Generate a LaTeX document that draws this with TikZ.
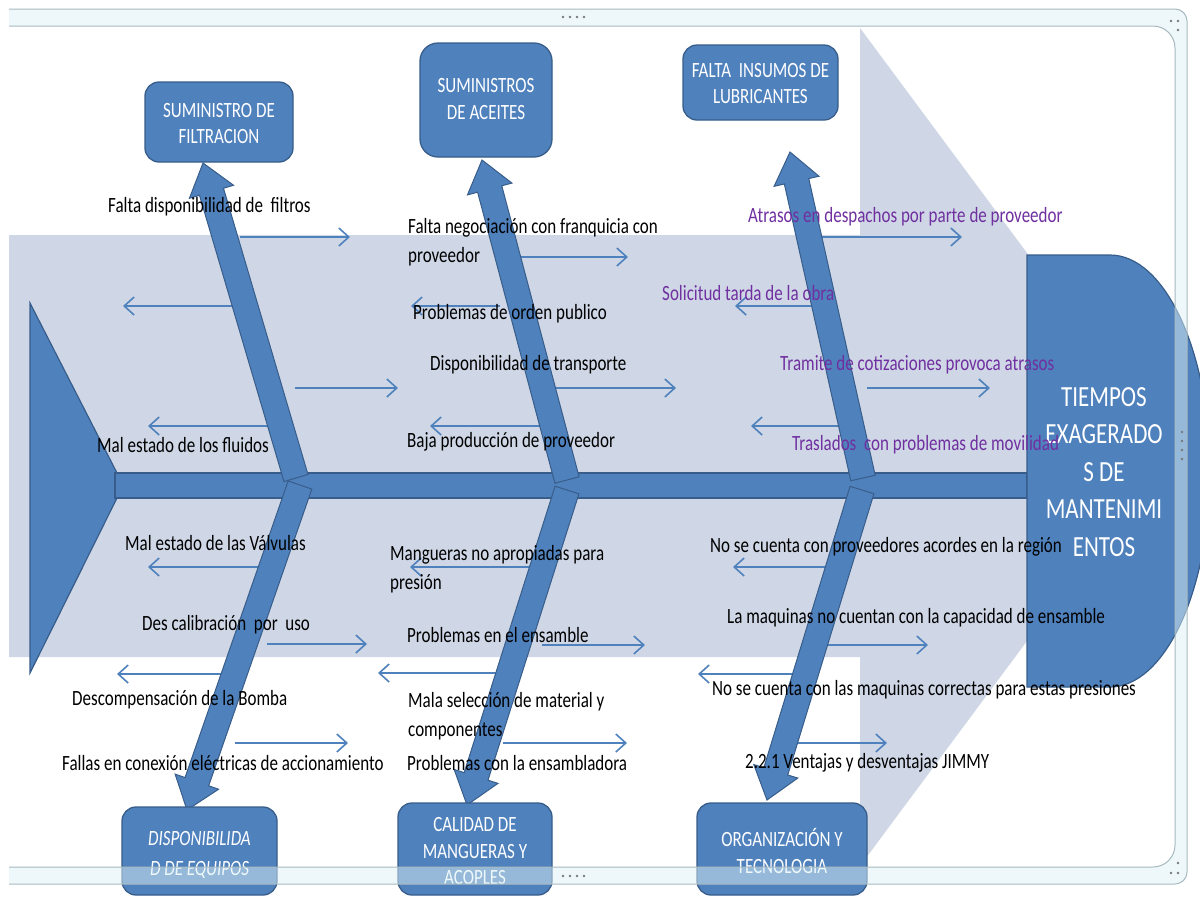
\documentclass[tikz,border=0pt]{standalone}
\usepackage{fontspec}
\setmainfont{Carlito}
\usetikzlibrary{calc,arrows.meta}

\definecolor{bluefill}{RGB}{79,129,189}
\definecolor{blueedge}{RGB}{56,93,138}
\definecolor{bgarrow}{RGB}{207,215,230}
\definecolor{purp}{RGB}{112,48,160}
\definecolor{framefill}{RGB}{222,242,246}
\definecolor{frameedge}{RGB}{168,186,192}
\definecolor{dotgrey}{RGB}{120,120,120}

\tikzset{
  shapestyle/.style={fill=bluefill, draw=blueedge, line width=1.2pt},
  catbox/.style={fill=bluefill, draw=blueedge, line width=1.3pt, rounded corners=14pt, inner sep=0pt},
  cattext/.style={text=white, align=center, inner sep=0pt, font=\fontsize{17}{21}\selectfont, transform shape, yscale=1.28},
  headtext/.style={text=white, align=center, inner sep=0pt, font=\fontsize{23}{29.5}\selectfont, transform shape, yscale=1.27},
  lbl/.style={anchor=west, align=left, inner sep=0pt, font=\fontsize{17}{22.5}\selectfont, transform shape, yscale=1.28},
  plbl/.style={lbl, text=purp},
  sub/.style={draw=bluefill, line width=1.6pt, -{Straight Barb[length=10pt,width=18pt]}},
  bonestyle/.style={fill=bluefill, draw=blueedge, line width=1pt, line join=miter},
}

% thin cause arrow between two named coordinates
\newcommand\subarr[4]{%
  \coordinate (#1s) at (#2,#4);
  \coordinate (#1e) at (#3,#4);
  \draw[sub] (#1s) -- (#1e);}

% thick block arrow (bone) from base #1 to tip #2, #3 names the head base
\newcommand\bonearrow[3]{%
  \coordinate (#3) at ($(#2)!30pt!(#1)$);
  \filldraw[bonestyle] ($(#1)!12.5pt!90:(#2)$) -- ($(#3)!12.5pt!90:(#2)$)
    -- ($(#3)!23pt!90:(#2)$) -- (#2) -- ($(#3)!23pt!-90:(#2)$)
    -- ($(#3)!12.5pt!-90:(#2)$) -- ($(#1)!12.5pt!-90:(#2)$) -- cycle;}

\begin{document}
\begin{tikzpicture}[x=1pt,y=-1pt]
\useasboundingbox (0,0) rectangle (1200,898);
\fill[white] (0,0) rectangle (1200,898);

% wide background arrow
\fill[bgarrow] (9,235) -- (860,235) -- (860,28) -- (1171,447) -- (860,866)
  -- (860,657) -- (9,657) -- cycle;

% tail, spine and head of the fish
\filldraw[shapestyle] (30,303) -- (117,473) -- (117,498) -- (30,673) -- cycle;
\node[shapestyle, inner sep=0pt, minimum width=912pt, minimum height=25pt] (spine) at (571,485.5) {};
\filldraw[shapestyle] (1027,255) -- (1110,255) .. controls (1165,255) and (1210,352) .. (1210,471)
  .. controls (1210,590) and (1165,687) .. (1110,687) -- (1027,687) -- cycle;
\node[headtext] (effect) at (1104,472) {TIEMPOS\\EXAGERADO\\S DE\\MANTENIMI\\ENTOS};

% cause arrows
\subarr{a1}{240}{350}{237}
\subarr{a2}{232}{123}{306}
\subarr{a3}{295}{398}{388}
\subarr{a4}{270}{148}{426}
\subarr{b1}{518}{628}{257}
\subarr{b2}{500}{411}{306}
\subarr{b3}{553}{676}{388}
\subarr{b4}{540}{430}{426}
\subarr{c1}{818}{962}{237}
\subarr{c2}{815}{735}{306}
\subarr{c3}{867}{990}{388}
\subarr{c4}{842}{751}{426}
\subarr{d1}{277}{148}{567}
\subarr{d2}{267}{367}{644}
\subarr{d3}{223}{117}{674}
\subarr{d4}{235}{348}{743}
\subarr{e1}{533}{410}{567}
\subarr{e2}{542}{645}{645}
\subarr{e3}{497}{378}{673}
\subarr{e4}{503}{627}{743}
\subarr{f1}{828}{733}{567}
\subarr{f2}{828}{928}{645}
\subarr{f3}{797}{698}{674}
\subarr{f4}{798}{887}{743}

% bones
\coordinate (b1base) at (296,478); \coordinate (b1tip) at (203,163);
\coordinate (b2base) at (567,480); \coordinate (b2tip) at (482,160);
\coordinate (b3base) at (863,478); \coordinate (b3tip) at (790,152);
\coordinate (b4base) at (300,485); \coordinate (b4tip) at (187,810);
\coordinate (b5base) at (567,490); \coordinate (b5tip) at (467,805);
\coordinate (b6base) at (862,490); \coordinate (b6tip) at (767,800);
\bonearrow{b1base}{b1tip}{b1head}
\bonearrow{b2base}{b2tip}{b2head}
\bonearrow{b3base}{b3tip}{b3head}
\bonearrow{b4base}{b4tip}{b4head}
\bonearrow{b5base}{b5tip}{b5head}
\bonearrow{b6base}{b6tip}{b6head}

% category boxes
\node[catbox, minimum width=148pt, minimum height=80pt] (boxA) at (219,122) {};
\node[catbox, minimum width=132pt, minimum height=114pt, rounded corners=18pt] (boxB) at (486,100) {};
\node[catbox, minimum width=155pt, minimum height=75pt] (boxC) at (760.5,82.5) {};
\node[catbox, minimum width=155pt, minimum height=88pt] (boxD) at (199.5,851) {};
\node[catbox, minimum width=154pt, minimum height=92pt] (boxE) at (475,849) {};
\node[catbox, minimum width=170pt, minimum height=92pt] (boxF) at (782,849) {};
\node[cattext] (txtA) at (219,123.5) {SUMINISTRO DE\\FILTRACION};
\node[cattext] (txtB) at (486,99) {SUMINISTROS\\DE ACEITES};
\node[cattext] (txtC) at (760.5,83.5) {FALTA~ INSUMOS DE\\LUBRICANTES};
\node[cattext, font=\fontsize{17}{23}\itshape] (txtD) at (199.5,855) {DISPONIBILIDA\\D DE EQUIPOS};
\node[cattext, font=\fontsize{17}{20.5}\selectfont] (txtE) at (475,851) {CALIDAD DE\\MANGUERAS Y\\ACOPLES};
\node[cattext] (txtF) at (782,851) {ORGANIZACIÓN Y\\TECNOLOGIA};

% cause labels
\node[lbl] (l1) at (108,207) {Falta disponibilidad de~ filtros};
\node[lbl] (l2) at (97,445) {Mal estado de los fluidos};
\node[lbl] (l3) at (408,242.5) {Falta negociación con franquicia con\\proveedor};
\node[lbl] (l4) at (413,314) {Problemas de orden publico};
\node[lbl] (l5) at (430,365) {Disponibilidad de transporte};
\node[lbl] (l6) at (407,442) {Baja producción de proveedor};
\node[plbl] (p1) at (748,217) {Atrasos en despachos por parte de proveedor};
\node[plbl] (p2) at (662,293) {Solicitud tarda de la obra};
\node[plbl] (p3) at (780,365) {Tramite de cotizaciones provoca atrasos};
\node[plbl] (p4) at (792,445) {Traslados~ con problemas de movilidad};
\node[lbl] (l7) at (125,543) {Mal estado de las Válvulas};
\node[lbl] (l8) at (142,625) {Des calibración~ por~ uso};
\node[lbl] (l9) at (72,700) {Descompensación de la Bomba};
\node[lbl] (l10) at (62,763) {Fallas en conexión eléctricas de accionamiento};
\node[lbl] (l11) at (390,569) {Mangueras no apropiadas para\\presión};
\node[lbl] (l12) at (407,635) {Problemas en el ensamble};
\node[lbl] (l13) at (408,716.5) {Mala selección de material y\\componentes};
\node[lbl] (l14) at (407,763) {Problemas con la ensambladora};
\node[lbl] (l15) at (710,547) {No se cuenta con proveedores acordes en la región};
\node[lbl] (l16) at (727,618) {La maquinas no cuentan con la capacidad de ensamble};
\node[lbl] (l17) at (712,690) {No se cuenta con las maquinas correctas para estas presiones};
\node[lbl] (l18) at (745,763) {2.2.1 Ventajas y desventajas JIMMY};

% window frame around the drawing
\begin{scope}
  \clip (9,0) rectangle (1200,898);
  \fill[framefill, fill opacity=0.5, even odd rule]
    [rounded corners=12pt] (-30,9) rectangle (1187,884)
    [rounded corners=22pt] (-30,26) rectangle (1175,867);
  \draw[frameedge, line width=1pt, rounded corners=12pt] (-30,9) rectangle (1187,884);
  \draw[frameedge, line width=1pt, rounded corners=22pt] (-30,26) rectangle (1175,867);
\end{scope}
\foreach \i in {0,...,3} {
  \fill[dotgrey] (563+7*\i,17) circle (1.3pt);
  \fill[dotgrey] (563+7*\i,876) circle (1.3pt);
  \fill[dotgrey] (1182,432+9*\i) circle (1.3pt);
}
\fill[dotgrey] (1171,21) circle (1.3pt) (1178,21) circle (1.3pt) (1178,30) circle (1.3pt);
\fill[dotgrey] (1178,863) circle (1.3pt) (1171,873) circle (1.3pt) (1178,873) circle (1.3pt);
\end{tikzpicture}
\end{document}
